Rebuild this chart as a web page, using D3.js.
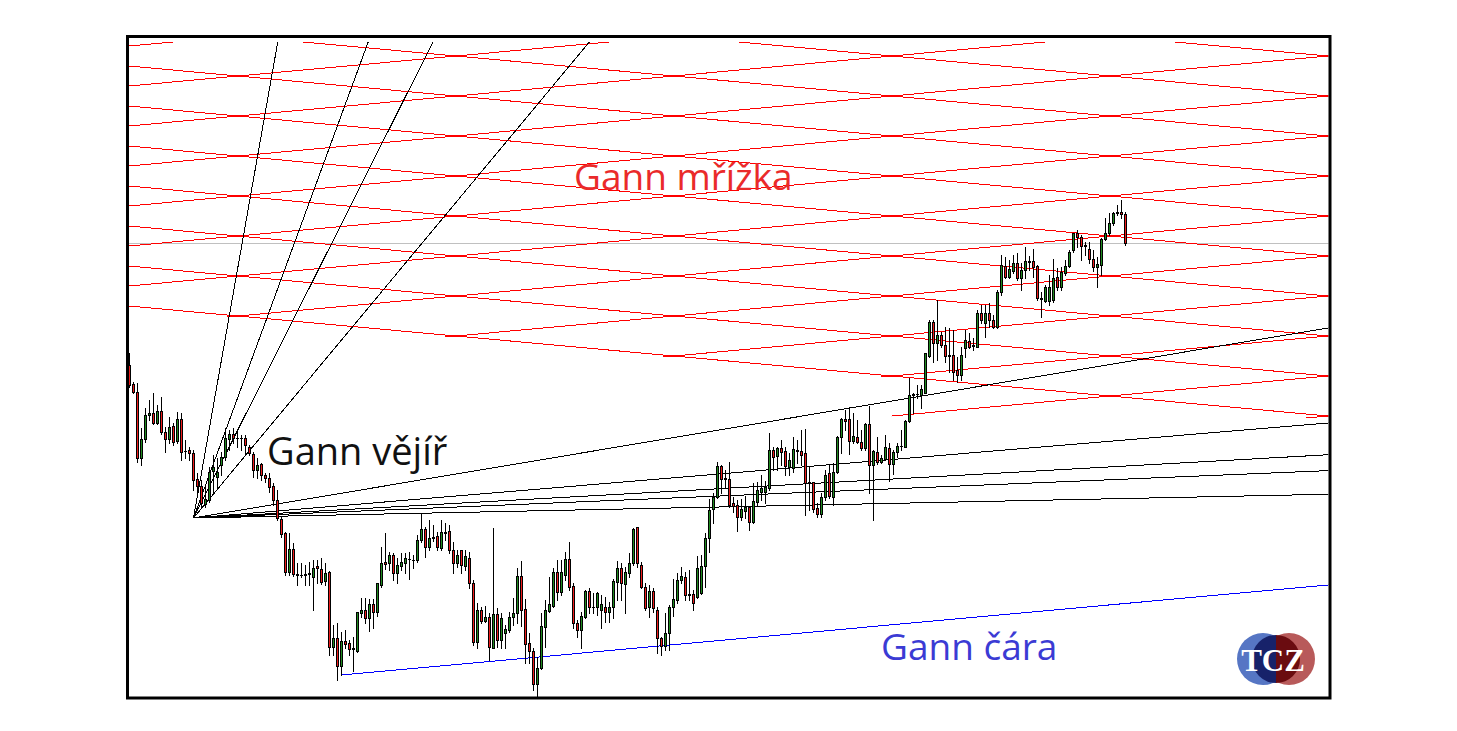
<!DOCTYPE html>
<html>
<head>
<meta charset="utf-8">
<script src="https://cdn.jsdelivr.net/npm/d3@7"></script>
<style>
  html, body { margin: 0; padding: 0; background: #ffffff; }
  svg { display: block; }
</style>
</head>
<body>
<svg id="chart" width="1457" height="731"></svg>
<script>
// ---- DATA ----
const open = [635,616,608,542,561,585,587,577,589,568, 561,574,559,581,549,550,547,521,514,496,
  500,529,523,535,543,561,566,562,562,562, 553,546,530,536,525,522,514,500,481,467,
  428,451,426,425,425,426,423,434,431,419, 428,353,362,334,359,357,351,349,387,390,
  382,396,388,415,438,437,445,427,434,437, 441,440,440,460,471,453,462,464,452,468,
  469,450,437,450,434,442,417,358,390,379, 383,352,386,360,367,370,383,387,424,391,
  357,349,316,332,373,389,394,428,408,425, 441,414,377,370,383,409,393,393,390,393,
  388,393,418,432,416,427,437,473,435,413, 393,409,390,362,354,367,393,400,420,423,
  406,406,403,407,434,462,491,503,534,522, 521,497,495,483,489,493,478,498,508,508,
  512,550,544,552,549,533,532,550,549,547, 518,518,492,486,503,527,503,528,563,581,
  581,559,563,558,552,576,535,548,538,541, 552,536,548,554,553,579,605,606,605,607,
  644,678,657,665,655,645,645,630,625,652, 659,655,653,687,677,687,680,673,708,734,
  723,729,737,722,730,739,739,734,702,699, 699,700,723,713,727,734,750,767,763,755,
  751,741,733,735,761,767,777,787,788,786];
const high = [647,618,617,572,592,600,607,595,603,573, 583,577,588,587,560,553,550,527,520,513,
  533,545,542,548,572,570,572,568,565,565, 555,548,542,537,527,527,517,510,483,468,
  467,457,437,437,435,438,440,440,442,437, 429,375,377,368,370,360,363,388,402,402,
  401,401,417,453,467,448,447,442,447,447, 448,445,465,487,473,480,475,468,480,477,
  475,458,450,450,450,448,420,397,393,394, 387,472,392,387,375,388,402,432,439,401,
  367,352,343,387,400,423,432,440,440,448, 458,417,380,388,410,412,407,408,405,403,
  398,421,439,437,433,447,472,473,438,417, 415,412,393,363,387,395,421,427,433,428,
  430,410,444,445,467,501,507,538,535,530, 538,503,500,501,504,494,517,518,525,519,
  567,553,553,560,553,547,563,560,570,571, 533,518,497,507,530,535,537,564,582,590,
  593,587,580,570,577,594,550,563,545,565, 557,550,557,570,580,622,607,615,615,647,
  680,680,700,668,673,672,670,643,653,670, 667,662,690,695,695,697,685,710,745,743,
  740,745,747,737,753,744,751,735,708,715, 725,741,732,733,740,750,767,770,765,758,
  758,750,743,762,782,787,788,795,800,788];
const low = [613,607,538,535,558,580,576,576,566,548, 557,555,557,540,542,540,510,503,493,493,
  498,508,513,525,540,550,557,553,550,545, 545,523,522,520,518,508,495,480,463,425,
  425,424,415,423,415,415,390,417,416,415, 345,345,320,325,352,345,329,348,383,377,
  369,372,384,413,431,430,420,417,430,427, 421,432,438,458,443,450,459,450,450,460,
  447,427,433,427,430,412,355,352,377,378, 340,352,353,352,352,368,375,377,374,337,
  337,310,304,331,353,388,393,400,405,420, 410,372,363,352,382,387,387,385,372,378,
  378,382,400,400,387,423,435,433,412,390, 383,388,347,345,350,350,384,397,417,400,
  400,390,402,406,413,448,477,502,507,512, 493,488,469,480,482,470,477,495,500,497,
  510,530,530,535,525,525,528,537,535,485, 490,488,483,483,500,502,495,527,547,570,
  546,557,557,550,550,507,480,536,537,540, 519,526,543,550,553,578,587,602,592,607,
  643,638,640,653,638,628,620,618,620,643, 652,650,653,677,663,673,672,672,705,722,
  722,727,720,710,722,730,723,700,683,698, 695,698,710,710,725,733,748,753,740,745,
  737,729,713,725,760,765,775,785,782,755];
const close = [615,608,542,561,585,587,577,589,568,561, 573,558,581,548,549,547,520,514,497,501,
  528,533,528,543,562,566,562,562,562,555, 547,530,535,525,522,513,500,482,466,428,
  451,426,425,425,426,427,432,432,418,427, 353,362,334,359,356,351,352,388,390,382,
  396,388,417,437,436,445,427,435,438,442, 441,440,460,471,453,462,463,453,468,467,
  450,437,445,435,444,417,358,390,379,383, 353,386,360,382,371,383,387,424,390,356,
  349,316,332,374,390,396,428,408,428,441, 413,377,370,384,409,393,393,407,396,388,
  393,419,432,417,428,437,471,437,413,392, 409,392,362,354,367,393,401,420,424,405,
  405,397,432,434,462,490,503,534,521,521, 495,494,483,491,493,478,499,510,512,513,
  550,543,552,548,534,540,551,549,545,517, 517,491,486,503,525,504,528,563,581,579,
  559,564,558,552,576,535,549,538,542,553, 536,548,554,554,579,605,606,606,611,647,
  678,657,665,655,644,644,628,625,645,660, 653,654,687,680,687,680,673,708,735,723,
  731,737,722,730,739,738,733,702,701,713, 713,722,713,728,734,748,767,763,754,754,
  741,733,736,761,767,777,787,788,786,757];

// Gann fan: origin (bar, price) and slopes in price per bar
const fanOrigin = [16, 482];
const fanNames  = ["1x8","1x4","1x3","1x2","1x1","2x1","3x1","4x1","8x1"];
const fanSlopes = [22.6, 10.9, 7.95, 4.81, 0.670, 0.335, 0.223, 0.167, 0.0837];

// Gann grid
const gridAnchor = [81.6, 944];      // bar, price of a crossing point
const gridCell   = [54.5, 40];       // bars, price between crossings
const gridTop = 958;                 // highest price drawn
const gridBottom = 584;              // lowest price drawn
const gridLowestDown = -7;           // index of lowest falling line bounding the grid
const gridStepBar = 190.6;           // bar after which the grid reaches down to gridBottom

// Gann line
const gannLine = { start: [53, 325], slope: 0.365 };

// axis domains
const barDomain = [0, 300];
const priceDomain = [302, 964];

const labels = { grid: "Gann mřížka", fan: "Gann vějíř", line: "Gann čára" };

// ---- DRAW ----
const svg = d3.select("#chart");
const x = d3.scaleLinear().domain(barDomain).range([129.5, 1329.5]);
const y = d3.scaleLinear().domain(priceDomain).range([698, 36]);

const defs = svg.append("defs");
defs.append("clipPath").attr("id", "plotClip").append("rect")
  .attr("x", 129).attr("y", 38).attr("width", 1199.5).attr("height", 659);
defs.append("clipPath").attr("id", "objClip").append("rect")
  .attr("x", 129).attr("y", y(gridTop)).attr("width", 1199.5).attr("height", 697 - y(gridTop));

const gs = (gridCell[1] / 2) / gridCell[0];
const downLine = (k, b) => gridAnchor[1] + k * gridCell[1] - (b - gridAnchor[0]) * gs;
const bL = barDomain[0] - 1, bR = barDomain[1] + 1;
const m = 2; // clip margin in price units so boundary lines stay whole
const poly = [
  [bL, gridTop], [bR, gridTop], [bR, gridBottom - m], [gridStepBar, gridBottom - m],
  [gridStepBar, downLine(gridLowestDown, gridStepBar) - m], [bL, downLine(gridLowestDown, bL) - m]
];
defs.append("clipPath").attr("id", "gridClip").append("path")
  .attr("d", d3.line().x(d => x(d[0])).y(d => y(d[1]))(poly) + "Z");

const plot = svg.append("g").attr("clip-path", "url(#plotClip)");

// grey current price line
const last = close[close.length - 1];
plot.append("line")
  .attr("x1", 129).attr("x2", 1329)
  .attr("y1", Math.round(y(last)) + 0.5).attr("y2", Math.round(y(last)) + 0.5)
  .attr("stroke", "#c0c0c0").attr("stroke-width", 1);

// Gann grid
const gridG = plot.append("g").attr("clip-path", "url(#gridClip)");
const b0 = barDomain[0] - 2, b1 = barDomain[1] + 2;
const gridLines = [];
for (let k = -30; k <= 30; k++) {
  const p = gridAnchor[1] + k * gridCell[1];
  gridLines.push([[b0, p + (b0 - gridAnchor[0]) * gs], [b1, p + (b1 - gridAnchor[0]) * gs]]);
  if (k >= gridLowestDown)
    gridLines.push([[b0, p - (b0 - gridAnchor[0]) * gs], [b1, p - (b1 - gridAnchor[0]) * gs]]);
}
gridG.selectAll("line.grid").data(gridLines).join("line")
  .attr("class", "grid")
  .attr("x1", d => x(d[0][0])).attr("y1", d => y(d[0][1]))
  .attr("x2", d => x(d[1][0])).attr("y2", d => y(d[1][1]))
  .attr("stroke", "#ff0000").attr("stroke-width", 1)
  .attr("shape-rendering", "crispEdges");

// Gann fan
const objG = plot.append("g").attr("clip-path", "url(#objClip)");
objG.selectAll("line.fan").data(fanSlopes).join("line")
  .attr("class", "fan")
  .attr("x1", x(fanOrigin[0])).attr("y1", y(fanOrigin[1]))
  .attr("x2", s => x(barDomain[1] + 5))
  .attr("y2", s => y(fanOrigin[1] + s * (barDomain[1] + 5 - fanOrigin[0])))
  .attr("stroke", "#000000").attr("stroke-width", 1)
  .attr("shape-rendering", "crispEdges");

// Gann line (blue)
objG.append("line")
  .attr("x1", x(gannLine.start[0])).attr("y1", y(gannLine.start[1]))
  .attr("x2", x(barDomain[1] + 5))
  .attr("y2", y(gannLine.start[1] + gannLine.slope * (barDomain[1] + 5 - gannLine.start[0])))
  .attr("stroke", "#0000ff").attr("stroke-width", 1)
  .attr("shape-rendering", "crispEdges");

// candles
const candles = open.map((o, i) => ({ i, o, h: high[i], l: low[i], c: close[i] }));
const cg = plot.append("g");
cg.selectAll("line.wick").data(candles).join("line")
  .attr("class", "wick")
  .attr("x1", d => x(d.i)).attr("x2", d => x(d.i))
  .attr("y1", d => Math.round(y(d.h))).attr("y2", d => Math.round(y(d.l)) + 1)
  .attr("stroke", "#000").attr("stroke-width", 1).attr("shape-rendering", "crispEdges");
cg.selectAll("rect.body").data(candles).join("rect")
  .attr("class", "body")
  .attr("x", d => x(d.i) - 1.5)
  .attr("y", d => Math.round(y(Math.max(d.o, d.c))))
  .attr("width", 3)
  .attr("height", d => Math.max(1, Math.round(y(Math.min(d.o, d.c))) - Math.round(y(Math.max(d.o, d.c))) + 1))
  .attr("fill", "#000").attr("shape-rendering", "crispEdges");
cg.selectAll("rect.fill").data(candles.filter(d => {
    const h = Math.round(y(Math.min(d.o, d.c))) - Math.round(y(Math.max(d.o, d.c))) + 1;
    return h > 2 && d.o !== d.c;
  })).join("rect")
  .attr("class", "fill")
  .attr("x", d => x(d.i) - 0.5)
  .attr("y", d => Math.round(y(Math.max(d.o, d.c))) + 1)
  .attr("width", 1)
  .attr("height", d => Math.round(y(Math.min(d.o, d.c))) - Math.round(y(Math.max(d.o, d.c))) - 1)
  .attr("fill", d => d.c > d.o ? "#1f8a1f" : "#ee1c1c")
  .attr("shape-rendering", "crispEdges");

// frame
svg.append("rect")
  .attr("x", 127.5).attr("y", 36.5).attr("width", 1202.5).attr("height", 661.5)
  .attr("fill", "none").attr("stroke", "#000").attr("stroke-width", 3);

// labels
const font = "'Open Sans', 'Noto Sans', sans-serif";
svg.append("text").attr("x", 574).attr("y", 190).text(labels.grid)
  .attr("font-family", font).attr("font-size", 37).attr("fill", "#ea2a2a");
svg.append("text").attr("x", 267).attr("y", 465).text(labels.fan)
  .attr("font-family", font).attr("font-size", 38).attr("fill", "#111");
svg.append("text").attr("x", 881).attr("y", 660).text(labels.line)
  .attr("font-family", font).attr("font-size", 37).attr("fill", "#3b3bd4");

// TCZ logo
const logo = svg.append("g");
logo.append("circle").attr("cx", 1263).attr("cy", 659).attr("r", 26).attr("fill", "#5676c4");
logo.append("circle").attr("cx", 1289).attr("cy", 659).attr("r", 26).attr("fill", "#b85a5a");
defs.append("clipPath").attr("id", "midL").append("rect")
  .attr("x", 1240).attr("y", 630).attr("width", 36).attr("height", 60);
defs.append("clipPath").attr("id", "midR").append("rect")
  .attr("x", 1276).attr("y", 630).attr("width", 36).attr("height", 60);
logo.append("circle").attr("cx", 1276).attr("cy", 659).attr("r", 24)
  .attr("fill", "#17226a").attr("clip-path", "url(#midL)");
logo.append("circle").attr("cx", 1276).attr("cy", 659).attr("r", 24)
  .attr("fill", "#6a0c10").attr("clip-path", "url(#midR)");
logo.append("text").attr("x", 1273).attr("y", 671).attr("text-anchor", "middle")
  .text("TCZ").attr("font-family", "'Liberation Serif', 'DejaVu Serif', serif")
  .attr("font-weight", "bold").attr("font-size", 31).attr("fill", "#ffffff");
</script>
</body>
</html>
